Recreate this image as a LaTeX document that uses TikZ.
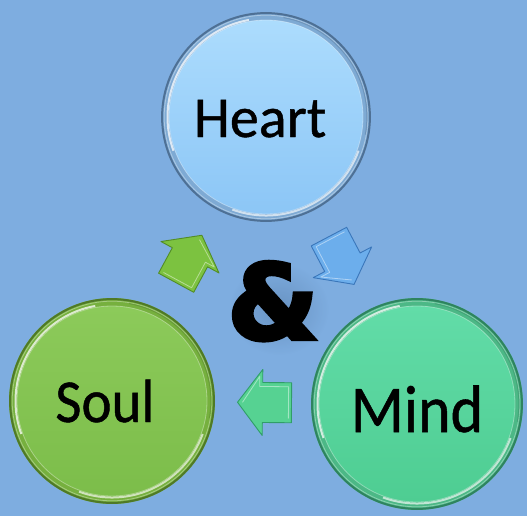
\documentclass[tikz,border=0pt]{standalone}
\usepackage{fontspec}
\setmainfont{Carlito}
\newfontfamily\labelfont[FakeBold=0.8]{Carlito}
\newfontfamily\ampfont[FakeBold=4]{DejaVu Sans Bold}
\usetikzlibrary{calc}

\definecolor{bg}{RGB}{126,173,224}
\definecolor{heartrim}{RGB}{126,170,212}
\definecolor{heartedge}{RGB}{66,98,134}
\definecolor{hearttop}{RGB}{172,220,253}
\definecolor{heartbot}{RGB}{140,198,246}
\definecolor{soulrim}{RGB}{118,176,62}
\definecolor{souledge}{RGB}{70,108,34}
\definecolor{soultop}{RGB}{140,202,90}
\definecolor{soulbot}{RGB}{124,189,74}
\definecolor{mindrim}{RGB}{76,184,134}
\definecolor{mindedge}{RGB}{40,118,86}
\definecolor{mindtop}{RGB}{98,220,168}
\definecolor{mindbot}{RGB}{78,205,146}
\definecolor{garrow}{RGB}{124,194,64}
\definecolor{garrowd}{RGB}{82,140,38}
\definecolor{barrow}{RGB}{108,174,236}
\definecolor{barrowd}{RGB}{58,118,186}
\definecolor{tarrow}{RGB}{86,210,146}
\definecolor{tarrowd}{RGB}{48,158,104}
\definecolor{ampshade}{RGB}{96,136,182}

% #1 name, #2 centre, #3 radius, #4 rim, #5 edge, #6 top, #7 bottom
\newcommand\glassbubble[7]{%
  \node[circle, minimum size=2*#3, inner sep=0pt, fill=#4] (#1) at #2 {};
  \draw[#5, opacity=.8, line width=2pt] (#1.center) circle (#3-1.1pt);
  \draw[white, opacity=.35, line width=.8pt] (#1.center) circle (#3-3.2pt);
  \draw[white, opacity=.75, line width=2pt] ($(#1.center)+(100:#3-6.5pt)$) arc[start angle=100, end angle=200, radius=#3-6.5pt];
  \draw[white, opacity=.65, line width=2pt] ($(#1.center)+(-20:#3-6.5pt)$) arc[start angle=-20, end angle=-110, radius=#3-6.5pt];
  \draw[#5, opacity=.3, line width=1.2pt] ($(#1.center)+(80:#3-4pt)$) arc[start angle=80, end angle=-10, radius=#3-4pt];
  \shade[top color=#6, bottom color=#7] (#1.center) circle (#3-8pt);
  \draw[white, opacity=.35, line width=.8pt] (#1.center) circle (#3-8pt);
}

\tikzset{
  pics/blockarrow/.style 2 args={code={
    \filldraw[fill=#1, draw=#2, line width=.9pt, line join=round]
      (-27pt,-20pt) -- (2pt,-20pt) -- (2pt,-33pt) -- (27pt,0pt) -- (2pt,33pt) -- (2pt,20pt) -- (-27pt,20pt) -- cycle;
    \draw[white, opacity=.45, line width=.8pt, line join=round]
      (-24pt,16pt) -- (-24pt,-16pt) -- (5pt,-16pt) -- (5pt,-26pt) -- (22pt,0pt);
  }},
  lbl/.style={anchor=base, inner sep=0pt, text=black}
}

\begin{document}
\begin{tikzpicture}[x=1pt,y=-1pt]
\useasboundingbox (0,0) rectangle (527,516);
\fill[bg] (0,0) rectangle (527,516);

\glassbubble{heart}{(266,117)}{105pt}{heartrim}{heartedge}{hearttop}{heartbot}
\glassbubble{soul}{(112,401)}{103pt}{soulrim}{souledge}{soultop}{soulbot}
\glassbubble{mind}{(417,404)}{106pt}{mindrim}{mindedge}{mindtop}{mindbot}

\node[lbl, font=\labelfont\fontsize{58}{60}\selectfont] (heartlabel) at (260,137) {Heart};
\node[lbl, font=\labelfont\fontsize{57}{60}\selectfont] (soullabel) at (105,422) {\scalebox{1}[1.07]{Soul}};
\node[lbl, font=\labelfont\fontsize{62}{64}\selectfont] (mindlabel) at (417,432) {\scalebox{1}[1.08]{Mind}};

% soft shadow behind the ampersand
\shade[inner color=ampshade, outer color=bg, opacity=.7] (279,309) ellipse (50pt and 46pt);
\node[lbl, font=\ampfont\fontsize{104}{110}\selectfont] (amp) at (273,339) {\&};

% block arrows between the circles
\path (soul.center) -- (heart.center) pic[pos=.5, sloped, allow upside down] {blockarrow={garrow}{garrowd}};
\path (heart.center) -- (mind.center) pic[pos=.5, sloped, allow upside down] {blockarrow={barrow}{barrowd}};
\path (mind.center) -- (soul.center) pic[pos=.5, sloped, allow upside down] {blockarrow={tarrow}{tarrowd}};
\end{tikzpicture}
\end{document}
